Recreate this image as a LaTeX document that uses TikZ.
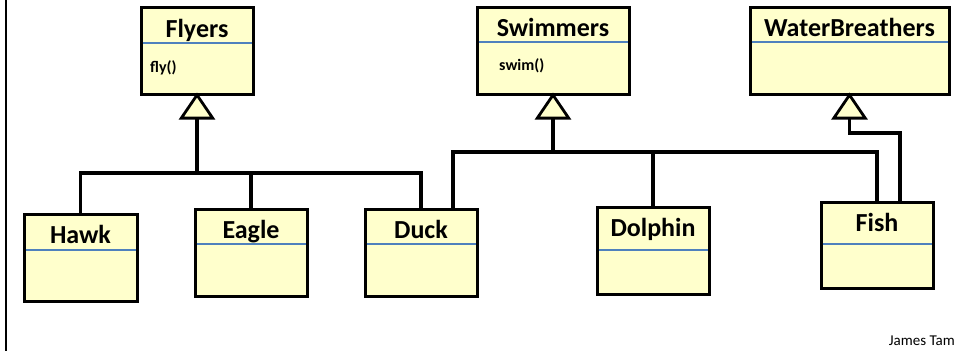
\documentclass[tikz,border=0pt]{standalone}
\usepackage{fontspec}
\setmainfont{Carlito}
\usetikzlibrary{arrows.meta}
\definecolor{classfill}{HTML}{FFFFCC}
\definecolor{divblue}{HTML}{4F81BD}
\tikzset{
  classbox/.style={draw, fill=classfill, line width=3pt, minimum width=112pt, minimum height=87pt, anchor=north, inner sep=0pt, outer sep=0pt},
  classname/.style={anchor=base, inner sep=0pt, font=\bfseries\fontsize{26}{28}\selectfont},
  method/.style={anchor=base west, inner sep=0pt, font=\bfseries\fontsize{16}{18}\selectfont},
  divider/.style={divblue, line width=1.5pt, shorten <=1.5pt, shorten >=1.5pt},
  bus/.style={line width=3.2pt},
  inherit/.style={line width=3.2pt, shorten >=-2pt, -{Triangle[length=27pt, width=36pt, fill=classfill, line width=2.8pt]}},
}

\begin{document}
\begin{tikzpicture}[x=1pt, y=-1pt]
    \useasboundingbox (0,0) rectangle (957,351);
    \draw [line width=2.6pt] (6,0) -- (6,351);

    \node [classbox, minimum height=87pt] (flyers) at (197,7.5) {};
    \draw [divider] (flyers.west |- 0,43) -- (flyers.east |- 0,43);
    \node [classname] (flyersname) at ([yshift=-29.5pt]flyers.north) {Flyers};
    \node [method] (flyersfly) at (150,72) {fly()};

    \node [classbox, minimum width=152pt] (swimmers) at (553,7.5) {};
    \draw [divider] (swimmers.west |- 0,42) -- (swimmers.east |- 0,42);
    \node [classname] (swimmersname) at ([yshift=-28.5pt]swimmers.north) {Swimmers};
    \node [method] (swimmersswim) at (499,70) {swim()};

    \node [classbox, minimum width=199pt] (breathers) at (849.5,7.5) {};
    \draw [divider] (breathers.west |- 0,42) -- (breathers.east |- 0,42);
    \node [classname] (breathersname) at ([yshift=-28.5pt]breathers.north) {WaterBreathers};

    \node [classbox, minimum width=113pt] (hawk) at (80.5,214.5) {};
    \draw [divider] (hawk.west |- 0,250) -- (hawk.east |- 0,250);
    \node [classname] (hawkname) at ([yshift=-28.5pt]hawk.north) {Hawk};

    \node [classbox] (eagle) at (251,209.5) {};
    \draw [divider] (eagle.west |- 0,244) -- (eagle.east |- 0,244);
    \node [classname] (eaglename) at ([yshift=-28.5pt]eagle.north) {Eagle};

    \node [classbox] (duck) at (421,209.5) {};
    \draw [divider] (duck.west |- 0,244) -- (duck.east |- 0,244);
    \node [classname] (duckname) at ([yshift=-28.5pt]duck.north) {Duck};

    \node [classbox] (dolphin) at (653,207.5) {};
    \draw [divider] (dolphin.west |- 0,250) -- (dolphin.east |- 0,250);
    \node [classname] (dolphinname) at ([yshift=-28.5pt]dolphin.north) {Dolphin};

    \node [classbox, minimum height=86pt] (fish) at (877,202.5) {};
    \draw [divider] (fish.west |- 0,244) -- (fish.east |- 0,244);
    \node [classname] (fishname) at ([yshift=-28.5pt]fish.north) {Fish};

    \coordinate (flyjoin) at (197,173);
    \coordinate (swimjoin) at (553,152);
    \coordinate (breathjoin) at (849.5,133);

    \draw [inherit] (hawk.north) |- (flyjoin) -- (flyers.south);
    \draw [bus] (eagle.north) -- (eagle.north |- flyjoin);
    \draw [bus] (duck.north) |- (flyjoin);

    \draw [inherit] ([xshift=32pt]duck.north) |- (swimjoin) -- (swimmers.south);
    \draw [bus] (dolphin.north) -- (dolphin.north |- swimjoin);
    \draw [bus] (fish.north) |- (swimjoin);

    \draw [inherit] ([xshift=23pt]fish.north) |- (breathjoin) -- (breathers.south);

    \node [anchor=base east, inner sep=0pt, font=\fontsize{15}{17}\selectfont] (author) at (955,345) {James Tam};
  \end{tikzpicture}
\end{document}
